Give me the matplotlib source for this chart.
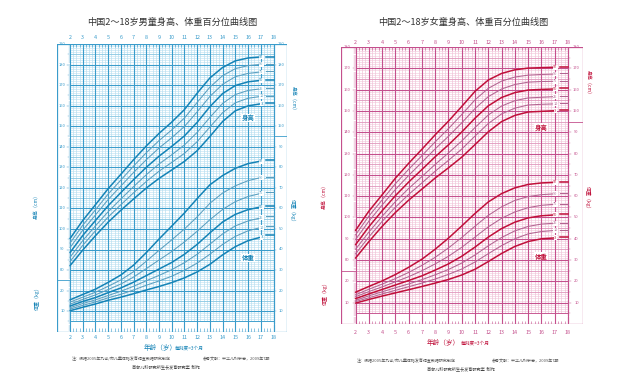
import numpy as np
import matplotlib.pyplot as plt

plt.rcParams['font.family'] = ['Noto Sans CJK SC', 'DejaVu Sans']

ages = list(range(2, 19))
pct_labels = ['3', '10', '25', '50', '75', '90', '97']

# boys height (cm)
boy_h3 = [82.1, 89.7, 96.7, 103.3, 109.1, 114.6, 119.9, 124.6, 128.7, 132.9, 138.1, 145.0, 152.3, 157.5, 159.9, 160.9, 161.3]
boy_h10 = [84.1, 92.0, 99.1, 105.8, 111.8, 117.6, 123.1, 128.1, 132.4, 136.8, 142.5, 149.6, 156.6, 161.4, 163.6, 164.5, 164.9]
boy_h25 = [86.2, 94.3, 101.5, 108.4, 114.6, 120.6, 126.4, 131.6, 136.1, 140.9, 147.0, 154.3, 161.1, 165.4, 167.4, 168.2, 168.6]
boy_h50 = [88.5, 96.8, 104.1, 111.3, 117.7, 124.0, 130.0, 135.4, 140.2, 145.3, 151.9, 159.5, 165.9, 169.8, 171.6, 172.3, 172.7]
boy_h75 = [90.9, 99.4, 106.8, 114.3, 120.9, 127.5, 133.7, 139.4, 144.4, 149.9, 157.0, 164.5, 170.4, 174.1, 175.7, 176.4, 176.7]
boy_h90 = [93.1, 101.8, 109.3, 117.0, 123.8, 130.6, 137.1, 143.0, 148.2, 154.0, 161.6, 169.0, 174.6, 178.0, 179.5, 180.1, 180.4]
boy_h97 = [95.3, 104.1, 111.8, 119.6, 126.6, 133.7, 140.4, 146.5, 152.0, 158.1, 166.1, 173.5, 178.6, 181.8, 183.2, 183.7, 183.9]

# boys weight (kg)
boy_w3 = [10.2, 11.9, 13.5, 15.3, 16.8, 18.5, 20.3, 22.0, 23.9, 26.2, 29.1, 32.8, 37.4, 41.4, 44.3, 46.0, 47.0]
boy_w10 = [11.0, 12.8, 14.5, 16.5, 18.2, 20.3, 22.6, 24.7, 27.0, 29.9, 33.4, 37.7, 42.5, 46.4, 49.1, 50.7, 51.6]
boy_w25 = [11.7, 13.7, 15.5, 17.6, 19.7, 22.1, 24.8, 27.4, 30.2, 33.6, 37.7, 42.6, 47.6, 51.5, 53.9, 55.4, 56.2]
boy_w50 = [12.5, 14.7, 16.6, 19.0, 21.3, 24.1, 27.3, 30.5, 33.7, 37.7, 42.5, 48.1, 53.4, 57.1, 59.4, 60.7, 61.4]
boy_w75 = [13.4, 15.7, 17.9, 20.5, 23.2, 26.6, 30.7, 34.9, 39.0, 43.7, 48.9, 54.5, 59.5, 63.3, 65.8, 67.3, 67.8]
boy_w90 = [14.4, 16.8, 19.2, 22.1, 25.2, 29.2, 34.3, 39.6, 44.7, 50.0, 55.9, 62.5, 67.5, 71.0, 73.5, 75.0, 75.5]
boy_w97 = [15.5, 18.1, 20.7, 24.0, 27.6, 32.4, 38.5, 45.1, 51.4, 57.8, 64.8, 71.5, 76.0, 79.5, 81.8, 83.0, 83.4]

# girls height (cm)
girl_h3 = [80.9, 88.6, 95.8, 102.3, 108.1, 113.3, 118.5, 123.3, 128.3, 134.2, 140.2, 145.0, 147.9, 149.5, 149.8, 150.1, 150.4]
girl_h10 = [82.9, 90.8, 98.1, 104.8, 110.8, 116.2, 121.7, 126.8, 132.1, 138.2, 144.1, 148.6, 151.3, 152.8, 153.1, 153.3, 153.6]
girl_h25 = [85.0, 93.1, 100.5, 107.4, 113.6, 119.2, 124.9, 130.3, 135.9, 142.2, 148.1, 152.3, 154.8, 156.1, 156.4, 156.7, 157.0]
girl_h50 = [87.2, 95.6, 103.1, 110.2, 116.6, 122.5, 128.5, 134.1, 140.1, 146.6, 152.4, 156.3, 158.6, 159.8, 160.1, 160.3, 160.6]
girl_h75 = [89.6, 98.2, 105.8, 113.1, 119.7, 125.9, 132.2, 138.1, 144.4, 151.1, 156.7, 160.3, 162.4, 163.5, 163.8, 163.9, 164.2]
girl_h90 = [91.8, 100.6, 108.2, 115.8, 122.6, 129.0, 135.5, 141.7, 148.3, 155.2, 160.6, 164.0, 165.9, 166.8, 167.1, 167.3, 167.6]
girl_h97 = [93.9, 102.9, 110.6, 118.4, 125.4, 132.0, 138.8, 145.2, 152.1, 159.2, 164.5, 167.6, 169.3, 170.1, 170.3, 170.5, 170.7]

# girls weight (kg)
girl_w3 = [9.8, 11.5, 13.1, 14.6, 16.1, 17.6, 19.2, 20.9, 23.0, 25.7, 29.3, 33.1, 36.4, 38.7, 40.0, 40.4, 40.7]
girl_w10 = [10.5, 12.3, 14.1, 15.8, 17.5, 19.2, 21.1, 23.3, 25.8, 29.1, 33.0, 36.8, 40.0, 42.3, 43.4, 43.9, 44.1]
girl_w25 = [11.1, 13.2, 15.1, 17.0, 18.8, 20.8, 23.1, 25.6, 28.6, 32.4, 36.7, 40.6, 43.7, 45.8, 46.9, 47.3, 47.6]
girl_w50 = [11.9, 14.1, 16.2, 18.3, 20.4, 22.6, 25.3, 28.2, 31.8, 36.1, 40.8, 44.8, 47.8, 49.8, 50.8, 51.2, 51.4]
girl_w75 = [12.8, 15.2, 17.4, 19.8, 22.2, 25.0, 28.2, 31.8, 36.0, 40.8, 45.6, 49.6, 52.6, 54.6, 55.7, 56.2, 56.4]
girl_w90 = [13.7, 16.3, 18.7, 21.3, 24.2, 27.5, 31.3, 35.7, 40.6, 45.9, 51.0, 55.0, 58.0, 59.8, 60.7, 61.1, 61.3]
girl_w97 = [14.9, 17.6, 20.2, 23.2, 26.6, 30.4, 35.1, 40.3, 46.0, 51.9, 57.3, 61.2, 63.9, 65.5, 66.2, 66.5, 66.7]

boy_heights = [boy_h3, boy_h10, boy_h25, boy_h50, boy_h75, boy_h90, boy_h97]
boy_weights = [boy_w3, boy_w10, boy_w25, boy_w50, boy_w75, boy_w90, boy_w97]
girl_heights = [girl_h3, girl_h10, girl_h25, girl_h50, girl_h75, girl_h90, girl_h97]
girl_weights = [girl_w3, girl_w10, girl_w25, girl_w50, girl_w75, girl_w90, girl_w97]

OFF = 50  # height axis = weight axis + 50


def draw_chart(fig, rect, xlim, top, heights, weights, c_dark, c_thin, c_major, c_mid, c_fine,
               h_lab_pos, w_lab_pos, age_top_dy, age_bot_dy):
    ax = fig.add_axes(rect)
    ax.set_xlim(*xlim)
    ax.set_ylim(0, top)
    ax.axis('off')
    x0, x1 = xlim

    # fine grid
    ax.hlines(np.arange(5, top, 1), 2, 18, color=c_fine, lw=0.4, zorder=1)
    ax.vlines(np.arange(2, 18, 0.25), 5, top, color=c_fine, lw=0.5, zorder=1)
    ax.hlines(np.arange(5, top, 5), 2, 18, color=c_mid, lw=0.5, zorder=2)
    ax.hlines(np.arange(10, top, 10), 2, 18, color=c_major, lw=0.8, zorder=3)
    ax.vlines(np.arange(2, 19, 1), 0, top, color=c_major, lw=0.8, zorder=3)
    ax.hlines([5], 2, 18, color=c_major, lw=0.6, zorder=3)
    # quarter ticks top and bottom
    q = [a for a in np.arange(2, 18, 0.25) if a % 1]
    ax.vlines(q, 0, 1.6, color=c_major, lw=0.4, zorder=3)
    ax.vlines(q, top - 1.6, top, color=c_major, lw=0.4, zorder=3)

    # outer box and strips
    ax.plot([x0, x1, x1, x0, x0], [0, 0, top, top, 0], color=c_major, lw=0.9, zorder=4)
    ax.hlines([25], x0, 2, color=c_major, lw=0.6)
    ax.hlines([95], 18, x1, color=c_major, lw=0.6)
    for side, edge, sgn in [('l', 2, -1), ('r', 18, 1)]:
        for v in range(1, top):
            if side == 'l' and abs(v - 25) < 1:
                continue
            if side == 'r' and abs(v - 95) < 1:
                continue
            ln = 0.22 if v % 10 == 0 else (0.14 if v % 5 == 0 else 0.08)
            ax.plot([edge, edge + sgn * ln], [v, v], color=c_major, lw=0.35)
    lx = (x0 + 2) / 2 - 0.08
    rx = (18 + x1) / 2 + 0.08
    for v in range(30, top + 1, 10):
        ax.text(lx, v, str(v + OFF), fontsize=2.9, color=c_major, ha='center', va='center')
    for v in [10, 20]:
        ax.text(lx, v, str(v), fontsize=2.9, color=c_major, ha='center', va='center')
    for v in range(100, top + 1, 10):
        ax.text(rx, v, str(v + OFF), fontsize=2.9, color=c_major, ha='center', va='center')
    for v in range(10, 91, 10):
        ax.text(rx, v, str(v), fontsize=2.9, color=c_major, ha='center', va='center')

    for a in range(2, 19):
        ax.text(a, top + age_top_dy, str(a), fontsize=3.9, color=c_major, ha='center', va='center')
        ax.text(a, age_bot_dy, str(a), fontsize=3.9, color=c_major, ha='center', va='center')

    # percentile curves
    for k, (h, w) in enumerate(zip(heights, weights)):
        heavy = pct_labels[k] in ('3', '50', '97')
        col = c_dark if heavy else c_thin
        lw = 1.1 if heavy else 0.75
        hv = np.array(h) - OFF
        wv = np.array(w)
        for vals in (hv, wv):
            ax.plot(ages[:-1], vals[:-1], color=col, lw=lw, zorder=6, solid_capstyle='round')
            ax.plot([17.4, 18.0], [vals[-1], vals[-1]], color=col, lw=lw, zorder=6)
            ax.text(17.05, vals[-2], pct_labels[k], fontsize=2.8, color=col, ha='center', va='center',
                    zorder=7, bbox=dict(facecolor='white', edgecolor='none', pad=0.3))

    ax.text(h_lab_pos[0], h_lab_pos[1], '身高', fontsize=4.6, color=c_dark, fontweight='bold',
            ha='center', va='center', zorder=7, bbox=dict(facecolor='white', edgecolor='none', pad=0.4))
    ax.text(w_lab_pos[0], w_lab_pos[1], '体重', fontsize=4.6, color=c_dark, fontweight='bold',
            ha='center', va='center', zorder=7, bbox=dict(facecolor='white', edgecolor='none', pad=0.4))
    return ax


fig = plt.figure(figsize=(6.4, 3.83), dpi=100)

# boys chart
boy_blue = '#1583b6'
draw_chart(fig, [57 / 640, 1 - 331.7 / 383, 230 / 640, 287.7 / 383], (0.978, 19.06), 140,
           boy_heights, boy_weights, boy_blue, '#5a9fc0', '#3a9ccb', '#7fc2df', '#b9e0f1',
           (16.0, 104), (16.0, 36), 3.0, -3.0)
# girls chart
girl_red = '#c0103a'
draw_chart(fig, [341 / 640, 1 - 324 / 383, 242 / 640, 277 / 383], (0.908, 19.13), 130,
           girl_heights, girl_weights, girl_red, '#b36592', '#c4508d', '#dc90b8', '#f1c4d9',
           (16.0, 92.3), (16.0, 31.9), 2.3, -3.9)

# titles
fig.text(172 / 640, 1 - 22 / 383, '中国2～18岁男童身高、体重百分位曲线图', fontsize=6.6, color='#333333',
         ha='center', va='center')
fig.text(463 / 640, 1 - 22 / 383, '中国2～18岁女童身高、体重百分位曲线图', fontsize=6.6, color='#333333',
         ha='center', va='center')

# axis titles
for x, y, s, rot, c in [(37, 205, '身高（cm）', 90, boy_blue), (37, 297, '体重（kg）', 90, boy_blue),
                        (293, 100, '身高（cm）', 270, boy_blue), (293, 212, '体重（kg）', 270, boy_blue),
                        (325, 195, '身高（cm）', 90, girl_red), (325, 292, '体重（kg）', 90, girl_red),
                        (588, 84, '身高（cm）', 270, girl_red), (588, 199, '体重（kg）', 270, girl_red)]:
    fig.text(x / 640, 1 - y / 383, s, fontsize=3.6, color=c, rotation=rot, ha='center', va='center')

# footers
fig.text(160 / 640, 1 - 348 / 383, '年龄（岁）', fontsize=4.8, color=boy_blue, ha='center', va='center')
fig.text(189 / 640, 1 - 348 / 383, '每刻度=3个月', fontsize=3.4, color=boy_blue, ha='center', va='center')
fig.text(72 / 640, 1 - 359 / 383, '注：根据2005年九省/市儿童体格发育调查数据研究制定', fontsize=2.9,
         color='#555555', ha='left', va='center')
fig.text(203 / 640, 1 - 359 / 383, '参考文献：中华儿科杂志，2009年7期', fontsize=2.9,
         color='#555555', ha='left', va='center')
fig.text(166 / 640, 1 - 367 / 383, '首都儿科研究所生长发育研究室  制作', fontsize=3.0,
         color='#444444', ha='center', va='center')

fig.text(443 / 640, 1 - 343 / 383, '年龄（岁）', fontsize=4.8, color=girl_red, ha='center', va='center')
fig.text(475 / 640, 1 - 343 / 383, '每刻度=3个月', fontsize=3.4, color=girl_red, ha='center', va='center')
fig.text(357 / 640, 1 - 361 / 383, '注：根据2005年九省/市儿童体格发育调查数据研究制定', fontsize=2.9,
         color='#555555', ha='left', va='center')
fig.text(492 / 640, 1 - 361 / 383, '参考文献：中华儿科杂志，2009年7期', fontsize=2.9,
         color='#555555', ha='left', va='center')
fig.text(461 / 640, 1 - 369 / 383, '首都儿科研究所生长发育研究室  制作', fontsize=3.0,
         color='#444444', ha='center', va='center')

fig.savefig('out.png', dpi=100)
